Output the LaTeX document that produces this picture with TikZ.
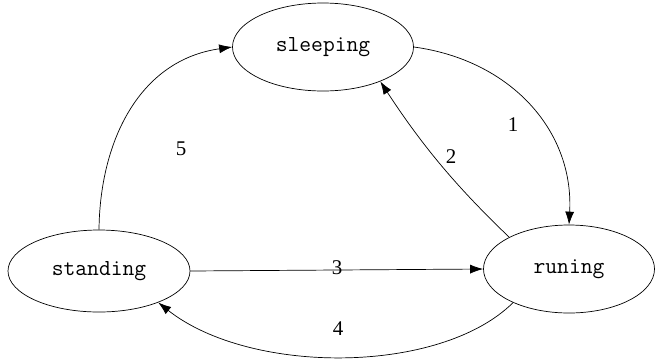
\documentclass[tikz,border=0pt]{standalone}
\usepackage{fontspec}
\newfontfamily\numfont{Liberation Serif}
\usetikzlibrary{shapes.geometric,arrows.meta}
\begin{document}
\begin{tikzpicture}[x=1bp,y=-1bp,
  state/.style={draw,ellipse,line width=0.7bp,inner sep=0pt,font=\ttfamily\fontsize{23}{26}\selectfont},
  conn/.style={draw,line width=0.7bp,-{Latex[length=13bp,width=9bp]}},
  lbl/.style={font=\numfont\fontsize{21}{24}\selectfont,inner sep=0pt}]
\useasboundingbox (0,0) rectangle (655,362);
\node[state,minimum width=181bp,minimum height=88bp] (sl) at (323,47) {sleeping};
\node[state,minimum width=182bp,minimum height=82bp] (st) at (99,271) {standing};
\node[state,minimum width=171bp,minimum height=88bp] (run) at (569,269) {runing};
\draw[conn] (sl.east) .. controls (510,60) and (574,130) .. (run.north);
\draw[conn] (run.152) .. controls (460,190) and (425,150) .. (sl.-31);
\draw[conn] (st.east) -- (run.west);
\draw[conn] (run.211) .. controls (440,375) and (250,375) .. (st.-28);
\draw[conn] (st.north) .. controls (100,140) and (140,60) .. (sl.west);
\node[lbl] (l1) at (513,125) {1};
\node[lbl] (l2) at (451,157) {2};
\node[lbl] (l3) at (337,268) {3};
\node[lbl] (l4) at (338,329) {4};
\node[lbl] (l5) at (181,149) {5};
\end{tikzpicture}
\end{document}
